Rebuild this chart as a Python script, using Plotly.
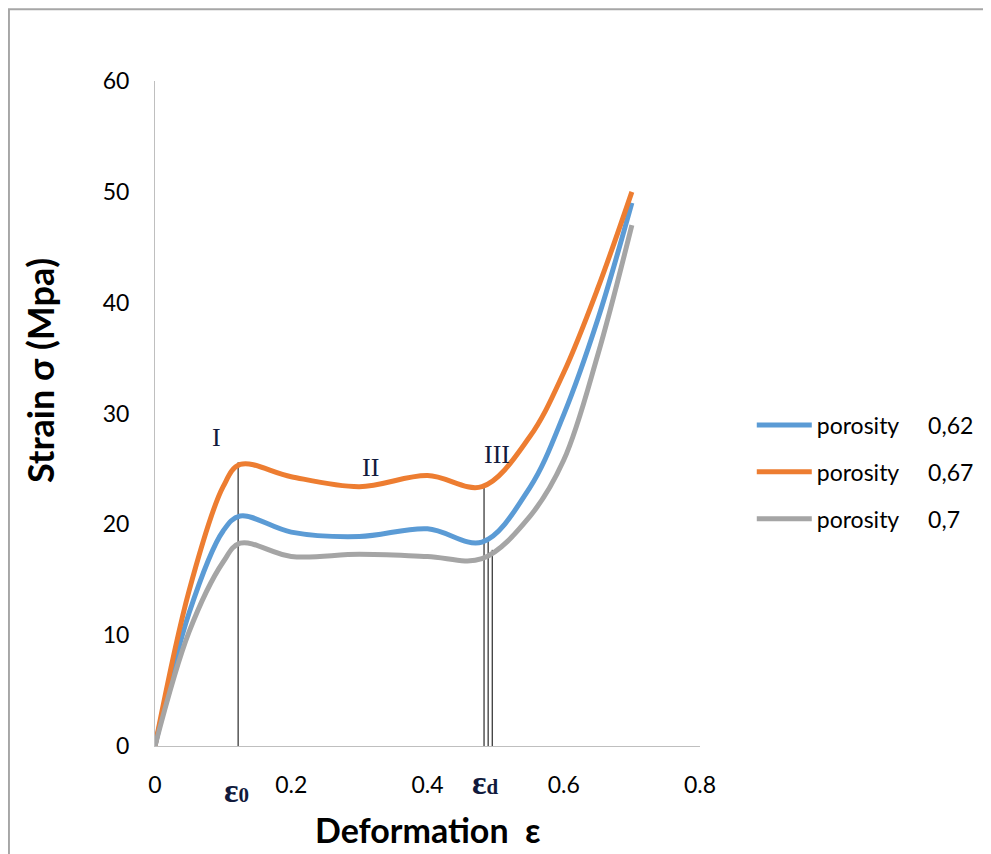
import plotly.graph_objects as go

# deformation values
eps = [0, 0.05, 0.1, 0.125, 0.2, 0.3, 0.4, 0.48, 0.55, 0.6, 0.65, 0.7]

sigma_062 = [0, 12.0, 19.4, 20.75, 19.3, 18.9, 19.6, 18.4, 23.3, 29.9, 38.5, 49.0]
sigma_067 = [0, 14.0, 23.4, 25.4, 24.3, 23.4, 24.4, 23.4, 27.9, 33.7, 41.3, 50.0]
sigma_07 = [0, 10.3, 16.6, 18.3, 17.1, 17.3, 17.1, 16.9, 20.7, 25.8, 35.3, 47.0]

gap = "\u00a0" * 5
series_names = ["porosity" + gap + "0,62", "porosity" + gap + "0,67", "porosity" + gap + "0,7"]
series_colors = ['#5B9BD5', '#ED7D31', '#A5A5A5']

# vertical marker lines: eps0 and the three eps_d lines
marker_x = [0.122, 0.483, 0.489, 0.495]
marker_top = [25.6, 23.3, 18.6, 17.7]

# zone labels
zone_labels = ["I", "II", "III"]
zone_x = [0.091, 0.316, 0.502]
zone_y = [27.8, 25.1, 26.3]

x_ticks = [0, 0.2, 0.4, 0.6, 0.8]
y_ticks = [0, 10, 20, 30, 40, 50, 60]

fig = go.Figure()

for mx, top in zip(marker_x, marker_top):
    fig.add_trace(go.Scatter(
        x=[mx, mx], y=[-0.3, top],
        mode='lines',
        line=dict(color='black', width=1),
        showlegend=False, hoverinfo='skip', cliponaxis=False
    ))

for i, (name, ys, color) in enumerate(zip(series_names, [sigma_062, sigma_067, sigma_07], series_colors)):
    fig.add_trace(go.Scatter(
        x=eps, y=ys,
        mode='lines',
        name=name,
        legendgroup=f"g{i}",
        line=dict(color=color, width=5, shape='spline', smoothing=1.0),
        cliponaxis=False
    ))

navy = '#111a3c'
annotations = []
for t, x, y in zip(zone_labels, zone_x, zone_y):
    annotations.append(dict(x=x, y=y, text=t, showarrow=False,
                            font=dict(family='Liberation Serif', size=26, color=navy)))

annotations.append(dict(x=0.119, xref='x', yref='paper', y=-0.097,
                        text="<b>ε<span style='font-size:21px'>0</span></b>",
                        showarrow=False, font=dict(family='Liberation Serif', size=34, color=navy)))
annotations.append(dict(x=0.485, xref='x', yref='paper', y=-0.086,
                        text="<b>ε<span style='font-size:21px'>d</span></b>",
                        showarrow=False, font=dict(family='Liberation Serif', size=34, color=navy)))

annotations.append(dict(xref='paper', yref='paper', x=0.5, y=-0.126, yanchor='middle',
                        text="<b>Deformation\u00a0 ε</b>", showarrow=False,
                        font=dict(family='Lato', size=34, color='black')))
annotations.append(dict(xref='paper', yref='paper', x=-0.211, y=0.564, xanchor='center', yanchor='middle',
                        text="<b>Strain σ (Mpa)</b>", textangle=-90, showarrow=False,
                        font=dict(family='Lato', size=36, color='black')))

fig.update_layout(
    width=991, height=854,
    margin=dict(l=147, r=299, t=73, b=116),
    paper_bgcolor='white',
    plot_bgcolor='white',
    font=dict(family='Lato', size=23, color='black'),
    xaxis=dict(range=[0, 0.8], tickvals=x_ticks, showgrid=False, zeroline=False,
               showline=True, linecolor='#BFBFBF', linewidth=1, ticks='',
               ticklabelstandoff=18),
    yaxis=dict(range=[0, 60], tickvals=y_ticks, showgrid=False, zeroline=False,
               showline=True, linecolor='#BFBFBF', linewidth=1, ticks='',
               ticklabelstandoff=20),
    legend=dict(x=1.095, y=0.412, xanchor='left', yanchor='middle',
                font=dict(size=23), itemwidth=55, tracegroupgap=14,
                bgcolor='rgba(0,0,0,0)'),
    annotations=annotations,
    shapes=[dict(type='rect', xref='paper', yref='paper',
                 x0=-0.268, x1=1.7, y0=-0.3, y1=1.108,
                 line=dict(color='#A6A6A6', width=2), layer='below')]
)

fig.write_html("out.html")
